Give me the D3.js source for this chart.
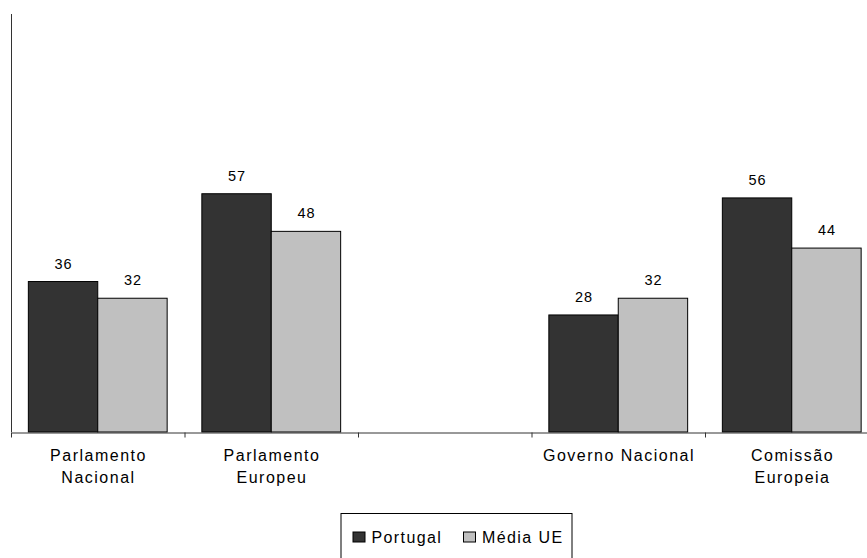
<!DOCTYPE html>
<html>
<head>
<meta charset="utf-8">
<script src="https://cdn.jsdelivr.net/npm/d3@7"></script>
<style>
  body { margin: 0; background: #fff; }
  svg { display: block; font-family: "Liberation Sans", Arial, sans-serif; }
</style>
</head>
<body>
<svg id="chart"></svg>
<script>
// data
const categories = ["Parlamento Nacional", "Parlamento Europeu", "", "Governo Nacional", "Comissão Europeia"];
const seriesNames = ["Portugal", "Média UE"];
const portugal = [36, 57, null, 28, 56];
const mediaUE = [32, 48, null, 32, 44];
const seriesColors = ["#333333", "#c0c0c0"];

const width = 867;
const height = 558;
const x0 = 11, x1 = 878.5;
const yTop = 14, yBase = 432;

const svg = d3.select("#chart")
    .attr("width", width)
    .attr("height", height);

let x = d3.scaleBand().domain(categories).range([x0, x1]);
let xInner = d3.scaleBand().domain(seriesNames).range([0, x.bandwidth()]).paddingOuter(0.25);
let y = d3.scaleLinear().domain([0, 100]).range([yBase, yTop]);
let color = d3.scaleOrdinal(seriesNames, seriesColors);

const rows = categories.map((c, i) => ({ cat: c, values: [portugal[i], mediaUE[i]] }));

// bars
let groups = svg.append("g").selectAll("g")
    .data(rows.filter(d => d.cat !== ""))
    .join("g")
        .attr("transform", d => "translate(" + x(d.cat) + ",0)");

groups.selectAll("rect")
    .data(d => d.values.map((v, j) => ({ name: seriesNames[j], value: v })))
    .join("rect")
        .attr("x", d => xInner(d.name))
        .attr("y", d => y(d.value))
        .attr("width", xInner.bandwidth())
        .attr("height", d => y(0) - y(d.value))
        .attr("fill", d => color(d.name))
        .attr("stroke", "#000")
        .attr("stroke-width", 1);

groups.selectAll("text")
    .data(d => d.values.map((v, j) => ({ name: seriesNames[j], value: v })))
    .join("text")
        .attr("x", d => xInner(d.name) + xInner.bandwidth() / 2 + 0.5)
        .attr("y", d => y(d.value) - 13)
        .attr("text-anchor", "middle")
        .attr("font-size", "14.5px")
        .attr("letter-spacing", "1px")
        .attr("fill", "#000")
        .text(d => d.value);

// y axis: plain line
svg.append("line")
    .attr("x1", x0 + 0.5).attr("x2", x0 + 0.5)
    .attr("y1", yTop).attr("y2", yBase)
    .attr("stroke", "#333");

// x axis with ticks at slot boundaries
let bounds = d3.scaleLinear().domain([0, categories.length]).range([x0, x1]);
let xAxis = svg.append("g")
    .attr("transform", "translate(0," + (yBase + 0.5) + ")")
    .call(d3.axisBottom(bounds).ticks(categories.length).tickSize(5).tickSizeOuter(0).tickFormat(""));
xAxis.selectAll("path, line").attr("stroke", "#333");

// category labels, wrapped
let labels = svg.append("g").selectAll("text")
    .data(categories.filter(c => c !== ""))
    .join("text")
        .attr("x", d => x(d) + x.bandwidth() / 2)
        .attr("y", 460.5)
        .attr("text-anchor", "middle")
        .attr("font-size", "16px")
        .attr("letter-spacing", "1.5px")
        .attr("fill", "#000");

labels.each(function (d) {
    const t = d3.select(this);
    const words = d.split(" ");
    let lines = [];
    let line = [];
    words.forEach(w => {
        line.push(w);
        t.text(line.join(" "));
        if (this.getComputedTextLength() > 160 && line.length > 1) {
            line.pop();
            lines.push(line.join(" "));
            line = [w];
        }
    });
    lines.push(line.join(" "));
    t.text(null);
    lines.forEach((l, i) => {
        t.append("tspan")
            .attr("x", x(d) + x.bandwidth() / 2 + 0.75)
            .attr("dy", i === 0 ? 0 : 22)
            .text(l);
    });
});

// legend
let legend = svg.append("g").attr("transform", "translate(341,513.5)");
legend.append("rect")
    .attr("x", 0).attr("y", 0)
    .attr("width", 231).attr("height", 60)
    .attr("fill", "#fff")
    .attr("stroke", "#000");

const legendX = [12, 122.5];
let items = legend.selectAll("g.item")
    .data(seriesNames)
    .join("g")
        .attr("class", "item")
        .attr("transform", (d, i) => "translate(" + legendX[i] + ",18.5)");

items.append("rect")
    .attr("width", 12).attr("height", 10)
    .attr("fill", d => color(d))
    .attr("stroke", "#000");

items.append("text")
    .attr("x", 18.5)
    .attr("y", 11)
    .attr("font-size", "16px")
    .attr("letter-spacing", "1.4px")
    .attr("fill", "#000")
    .text(d => d);
</script>
</body>
</html>
